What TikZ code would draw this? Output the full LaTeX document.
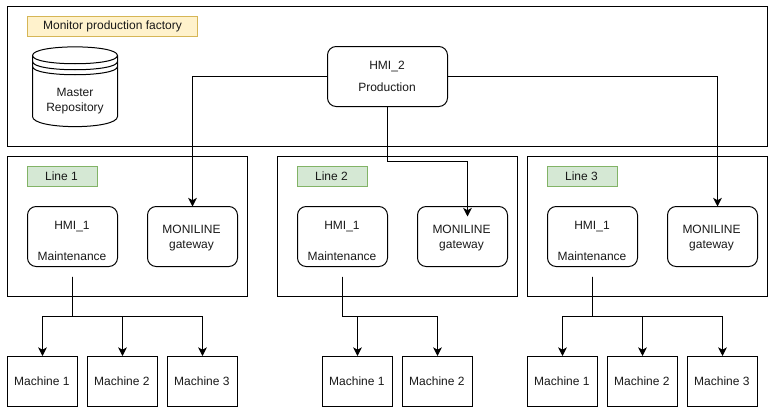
\documentclass[tikz,border=0pt]{standalone}
\usepackage{fontspec}
\setmainfont{Liberation Sans}
\usetikzlibrary{arrows.meta,positioning}
\tikzset{
  px/.style={x=0.75pt,y=-0.75pt},
  every node/.style={font=\fontsize{9}{11.25}\selectfont,text=black!90,align=center,inner sep=0pt},
  ln/.style={draw=black,line width=0.75pt},
  sq/.style={ln,minimum width=52.5pt,minimum height=37.5pt},
  rnd/.style={ln,rounded corners=6.5pt,minimum width=67.5pt,minimum height=45pt},
  group/.style={ln,minimum width=180pt,minimum height=105pt},
  tag/.style={minimum width=52.5pt,minimum height=15pt,line width=0.75pt},
  conn/.style={line width=0.75pt,draw=black,rounded corners=0pt},
  arr/.style={conn,-{Stealth[length=6.5pt,width=6.5pt,inset=1.8pt]}},
}
\definecolor{tagY}{HTML}{FFF2CC}\definecolor{tagYd}{HTML}{D6B656}
\definecolor{tagG}{HTML}{D5E8D4}\definecolor{tagGd}{HTML}{82B366}
\begin{document}
\begin{tikzpicture}[px]
\useasboundingbox (0,0) rectangle (775,414);
\node[ln,minimum width=570pt,minimum height=105pt] (factory) at (387.5,76.5) {};
\node[tag,draw=tagYd,fill=tagY,minimum width=127.5pt] (ftag) at (112.5,26.5) {Monitor production factory};
% repository
\draw[ln,fill=white] (32.5,55.5) .. controls (32.5,44) and (117.5,44) .. (117.5,55.5)
  -- (117.5,116.5) .. controls (117.5,130) and (32.5,130) .. (32.5,116.5) -- cycle;
\draw[ln] (32.5,55.5) .. controls (32.5,66.5) and (117.5,66.5) .. (117.5,55.5);
\draw[ln] (32.5,61.5) .. controls (32.5,72.5) and (117.5,72.5) .. (117.5,61.5);
\draw[ln] (32.5,66.5) .. controls (32.5,77.5) and (117.5,77.5) .. (117.5,66.5);
\node (repo) at (75,101) {Master\\Repository};
\node[ln,rounded corners=6.5pt,fill=white,minimum width=90pt,minimum height=45pt] (hmi2) at (387.5,76.5) {};
\node (hmi2a) at (387,67) {HMI\_2};
\node (hmi2b) at (387,87) {Production};
% line groups
\foreach \n/\x in {a/127.5,b/397.5,c/647.5}{
  \node[group] (line\n) at (\x,226.5) {};
}
\node[tag,draw=tagGd,fill=tagG] (taga) at (62.5,176.5) {};
\node (tagat) at (61.5,176.5) {Line 1};
\node[tag,draw=tagGd,fill=tagG] (tagb) at (332.5,176.5) {};
\node (tagbt) at (331.5,176.5) {Line 2};
\node[tag,draw=tagGd,fill=tagG] (tagc) at (582.5,176.5) {};
\node (tagct) at (581.5,176.5) {Line 3};
\foreach \n/\x/\y in {a/72.5/192.5,b/342.5/462.5,c/592.5/712.5}{
  \node[rnd] (hmi\n) at (\x,236.5) {};
  \node (hmi\n t) at (\x-0.5,226.5) {HMI\_1};
  \node (hmi\n m) at (\x-0.5,256.5) {Maintenance};
  \node[rnd] (gw\n) at (\y,236.5) {};
  \node (gw\n t) at (\y-1,238) {MONILINE\\gateway};
  \coordinate (out\n) at (\x,276.5);
  \coordinate (bus\n) at (\x,316.5);
}
% machines
\foreach \n/\x/\t in {a1/42.5/Machine 1,a2/122.5/Machine 2,a3/202.5/Machine 3,
  b1/357.5/Machine 1,b2/437.5/Machine 2,
  c1/562.5/Machine 1,c2/642.5/Machine 2,c3/722.5/Machine 3}{
  \node[sq] (m\n) at (\x,381.5) {\t\kern0.9pt};
}
% connectors
\coordinate (tg1) at (192.5,206.5);
\coordinate (tg2) at (467.5,216.5);
\coordinate (tg3) at (717.5,206.5);
\coordinate (bend2) at (387.5,161.5);
\draw[arr] (hmi2.west) -| (tg1);
\draw[arr] (hmi2.east) -| (tg3);
\draw[arr] (hmi2.south) -- (bend2) -| (tg2);
\foreach \n/\a in {a1/a,a2/a,a3/a,b1/b,b2/b,c1/c,c2/c,c3/c}{
  \draw[arr] (out\a) -- (bus\a) -| (m\n.north);
}
\end{tikzpicture}
\end{document}
